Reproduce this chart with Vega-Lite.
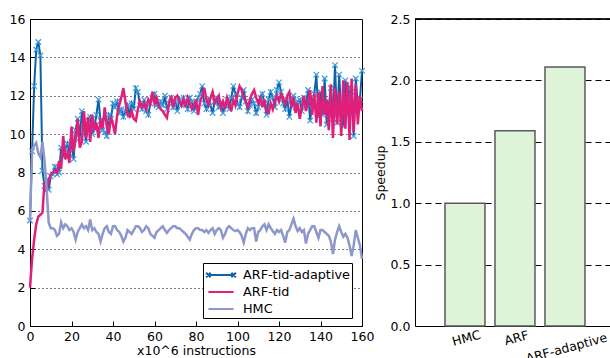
{
  "$schema": "https://vega.github.io/schema/vega-lite/v6.json",
  "padding": {"left": 8, "top": 12, "right": 0, "bottom": 0},
  "background": "white",
  "bounds": "flush",
  "spacing": 53,
  "config": {
    "font": "DejaVu Sans",
    "axis": {"labelFont": "DejaVu Sans", "titleFont": "DejaVu Sans", "labelFontSize": 12.5, "titleFontSize": 12.5, "labelColor": "black", "titleColor": "black", "titleFontWeight": "normal", "domainColor": "black", "tickColor": "black"},
    "view": {"stroke": "black", "strokeWidth": 1}
  },
  "resolve": {"scale": {"color": "independent"}, "legend": {"color": "independent"}},
  "datasets": {
    "ARF-tid-adaptive": [
      {"x":0,"v":5.5},{"x":1,"v":9.1},{"x":2,"v":12.5},{"x":3,"v":14.4},{"x":4,"v":14.8},{"x":5,"v":14.1},{"x":6,"v":8.1},{"x":7,"v":7.3},{"x":8,"v":7.6},{"x":9,"v":7.1},
      {"x":10,"v":7.8},{"x":11,"v":7.9},{"x":12,"v":8.3},{"x":13,"v":7.9},{"x":14,"v":8.0},{"x":15,"v":9.3},{"x":16,"v":8.8},{"x":17,"v":9.2},{"x":18,"v":9.5},{"x":19,"v":9.0},
      {"x":20,"v":9.6},{"x":21,"v":8.7},{"x":22,"v":10.2},{"x":23,"v":10.8},{"x":24,"v":9.8},{"x":25,"v":11.2},{"x":26,"v":10.4},{"x":27,"v":9.6},{"x":28,"v":10.7},{"x":29,"v":10.9},
      {"x":30,"v":10.0},{"x":31,"v":10.3},{"x":32,"v":11.0},{"x":33,"v":11.8},{"x":34,"v":10.7},{"x":35,"v":10.2},{"x":36,"v":10.1},{"x":37,"v":9.9},{"x":38,"v":11.0},{"x":39,"v":10.8},
      {"x":40,"v":11.6},{"x":41,"v":11.4},{"x":42,"v":11.7},{"x":43,"v":11.1},{"x":44,"v":11.3},{"x":45,"v":10.9},{"x":46,"v":11.2},{"x":47,"v":11.5},{"x":48,"v":11.0},{"x":49,"v":11.6},
      {"x":50,"v":11.3},{"x":51,"v":12.4},{"x":52,"v":12.2},{"x":53,"v":11.5},{"x":54,"v":11.3},{"x":55,"v":11.8},{"x":56,"v":11.2},{"x":57,"v":11.0},{"x":58,"v":11.6},{"x":59,"v":11.9},
      {"x":60,"v":12.1},{"x":61,"v":11.5},{"x":62,"v":11.4},{"x":63,"v":11.7},{"x":64,"v":11.5},{"x":65,"v":12.0},{"x":66,"v":11.3},{"x":67,"v":11.6},{"x":68,"v":11.9},{"x":69,"v":11.4},
      {"x":70,"v":11.7},{"x":71,"v":11.2},{"x":72,"v":11.8},{"x":73,"v":11.5},{"x":74,"v":11.9},{"x":75,"v":11.6},{"x":76,"v":11.3},{"x":77,"v":11.9},{"x":78,"v":11.7},{"x":79,"v":11.2},
      {"x":80,"v":11.6},{"x":81,"v":11.9},{"x":82,"v":12.1},{"x":83,"v":12.5},{"x":84,"v":11.6},{"x":85,"v":11.3},{"x":86,"v":11.8},{"x":87,"v":11.5},{"x":88,"v":11.1},{"x":89,"v":11.7},
      {"x":90,"v":11.9},{"x":91,"v":11.4},{"x":92,"v":11.6},{"x":93,"v":11.1},{"x":94,"v":11.5},{"x":95,"v":11.8},{"x":96,"v":11.3},{"x":97,"v":11.9},{"x":98,"v":12.5},{"x":99,"v":12.1},
      {"x":100,"v":11.6},{"x":101,"v":11.4},{"x":102,"v":11.9},{"x":103,"v":12.3},{"x":104,"v":11.7},{"x":105,"v":11.2},{"x":106,"v":11.5},{"x":107,"v":11.8},{"x":108,"v":11.6},{"x":109,"v":11.1},
      {"x":110,"v":11.4},{"x":111,"v":11.9},{"x":112,"v":12.1},{"x":113,"v":11.6},{"x":114,"v":11.0},{"x":115,"v":11.8},{"x":116,"v":12.2},{"x":117,"v":11.9},{"x":118,"v":11.4},{"x":119,"v":12.3},
      {"x":120,"v":12.7},{"x":121,"v":12.2},{"x":122,"v":11.6},{"x":123,"v":11.3},{"x":124,"v":11.8},{"x":125,"v":10.9},{"x":126,"v":11.5},{"x":127,"v":12.0},{"x":128,"v":11.4},{"x":129,"v":11.7},
      {"x":130,"v":11.8},{"x":131,"v":11.2},{"x":132,"v":11.9},{"x":133,"v":11.5},{"x":134,"v":12.3},{"x":135,"v":10.7},{"x":136,"v":11.6},{"x":137,"v":12.1},{"x":138,"v":13.1},{"x":139,"v":10.9},
      {"x":140,"v":12.2},{"x":141,"v":11.0},{"x":142,"v":12.9},{"x":143,"v":10.5},{"x":144,"v":11.5},{"x":145,"v":12.4},{"x":146,"v":10.8},{"x":147,"v":13.6},{"x":148,"v":10.6},{"x":149,"v":13.1},
      {"x":150,"v":11.2},{"x":151,"v":10.4},{"x":152,"v":12.8},{"x":153,"v":11.0},{"x":154,"v":12.4},{"x":155,"v":12.2},{"x":156,"v":9.9},{"x":157,"v":12.9},{"x":158,"v":11.5},{"x":159,"v":11.8},
      {"x":160,"v":13.3}
    ],
    "ARF-tid": [
      {"x":0,"v":2.0},{"x":1,"v":3.5},{"x":2,"v":4.5},{"x":3,"v":5.3},{"x":4,"v":5.7},{"x":5,"v":5.8},{"x":6,"v":5.9},{"x":7,"v":7.5},{"x":8,"v":7.0},{"x":9,"v":7.6},
      {"x":10,"v":7.9},{"x":11,"v":8.0},{"x":12,"v":8.1},{"x":13,"v":8.0},{"x":14,"v":8.6},{"x":15,"v":8.2},{"x":16,"v":9.9},{"x":17,"v":8.7},{"x":18,"v":9.0},{"x":19,"v":8.5},
      {"x":20,"v":10.4},{"x":21,"v":9.1},{"x":22,"v":9.7},{"x":23,"v":10.8},{"x":24,"v":9.3},{"x":25,"v":9.6},{"x":26,"v":11.2},{"x":27,"v":9.8},{"x":28,"v":10.9},{"x":29,"v":9.6},
      {"x":30,"v":11.0},{"x":31,"v":10.2},{"x":32,"v":10.6},{"x":33,"v":9.8},{"x":34,"v":10.8},{"x":35,"v":10.3},{"x":36,"v":11.4},{"x":37,"v":10.4},{"x":38,"v":10.0},{"x":39,"v":10.9},
      {"x":40,"v":10.5},{"x":41,"v":10.0},{"x":42,"v":11.0},{"x":43,"v":11.5},{"x":44,"v":11.9},{"x":45,"v":12.4},{"x":46,"v":11.7},{"x":47,"v":11.0},{"x":48,"v":10.9},{"x":49,"v":11.2},
      {"x":50,"v":10.8},{"x":51,"v":10.7},{"x":52,"v":11.3},{"x":53,"v":11.7},{"x":54,"v":11.4},{"x":55,"v":11.6},{"x":56,"v":11.3},{"x":57,"v":11.8},{"x":58,"v":11.6},{"x":59,"v":12.2},
      {"x":60,"v":11.6},{"x":61,"v":11.9},{"x":62,"v":11.5},{"x":63,"v":11.3},{"x":64,"v":11.2},{"x":65,"v":11.0},{"x":66,"v":10.85},{"x":67,"v":11.6},{"x":68,"v":12.0},{"x":69,"v":11.4},
      {"x":70,"v":11.9},{"x":71,"v":12.0},{"x":72,"v":11.7},{"x":73,"v":11.5},{"x":74,"v":11.8},{"x":75,"v":11.4},{"x":76,"v":11.9},{"x":77,"v":11.6},{"x":78,"v":11.3},{"x":79,"v":11.5},
      {"x":80,"v":11.8},{"x":81,"v":11.0},{"x":82,"v":11.7},{"x":83,"v":12.0},{"x":84,"v":12.4},{"x":85,"v":11.8},{"x":86,"v":11.5},{"x":87,"v":11.9},{"x":88,"v":12.2},{"x":89,"v":11.6},
      {"x":90,"v":11.8},{"x":91,"v":12.0},{"x":92,"v":11.4},{"x":93,"v":11.7},{"x":94,"v":11.3},{"x":95,"v":11.9},{"x":96,"v":11.6},{"x":97,"v":11.2},{"x":98,"v":11.8},{"x":99,"v":11.5},
      {"x":100,"v":12.1},{"x":101,"v":12.5},{"x":102,"v":12.3},{"x":103,"v":11.9},{"x":104,"v":11.7},{"x":105,"v":11.4},{"x":106,"v":11.8},{"x":107,"v":12.1},{"x":108,"v":12.3},{"x":109,"v":11.9},
      {"x":110,"v":11.6},{"x":111,"v":11.9},{"x":112,"v":11.4},{"x":113,"v":11.8},{"x":114,"v":11.2},{"x":115,"v":11.1},{"x":116,"v":11.6},{"x":117,"v":11.3},{"x":118,"v":11.8},{"x":119,"v":12.0},
      {"x":120,"v":11.7},{"x":121,"v":12.1},{"x":122,"v":11.9},{"x":123,"v":11.5},{"x":124,"v":12.0},{"x":125,"v":12.2},{"x":126,"v":11.4},{"x":127,"v":11.9},{"x":128,"v":11.1},{"x":129,"v":11.6},
      {"x":130,"v":10.8},{"x":131,"v":11.4},{"x":132,"v":12.0},{"x":133,"v":11.2},{"x":134,"v":11.7},{"x":135,"v":12.3},{"x":136,"v":11.0},{"x":137,"v":12.1},{"x":138,"v":10.6},{"x":139,"v":12.2},
      {"x":140,"v":10.4},{"x":141,"v":12.5},{"x":142,"v":11.0},{"x":143,"v":11.8},{"x":144,"v":10.2},{"x":145,"v":12.6},{"x":146,"v":9.8},{"x":147,"v":12.4},{"x":148,"v":10.5},{"x":149,"v":12.2},
      {"x":150,"v":9.9},{"x":151,"v":12.8},{"x":152,"v":10.3},{"x":153,"v":12.7},{"x":154,"v":9.7},{"x":155,"v":12.9},{"x":156,"v":10.1},{"x":157,"v":12.6},{"x":158,"v":10.5},{"x":159,"v":12.0},
      {"x":160,"v":11.2}
    ],
    "HMC": [
      {"x":0,"v":5.5},{"x":1,"v":9.2},{"x":2,"v":9.4},{"x":3,"v":9.55},{"x":4,"v":9.0},{"x":5,"v":8.8},{"x":6,"v":9.6},{"x":7,"v":8.6},{"x":8,"v":7.2},{"x":9,"v":5.4},
      {"x":10,"v":5.1},{"x":11,"v":5.1},{"x":12,"v":5.0},{"x":13,"v":4.7},{"x":14,"v":4.8},{"x":15,"v":5.4},{"x":16,"v":5.1},{"x":17,"v":5.3},{"x":18,"v":5.2},{"x":19,"v":5.0},
      {"x":20,"v":5.1},{"x":21,"v":4.9},{"x":22,"v":4.5},{"x":23,"v":4.9},{"x":24,"v":5.1},{"x":25,"v":5.3},{"x":26,"v":5.1},{"x":27,"v":5.2},{"x":28,"v":5.0},{"x":29,"v":5.55},
      {"x":30,"v":5.0},{"x":31,"v":5.1},{"x":32,"v":4.9},{"x":33,"v":4.8},{"x":34,"v":4.4},{"x":35,"v":4.8},{"x":36,"v":5.1},{"x":37,"v":5.2},{"x":38,"v":4.9},{"x":39,"v":4.8},
      {"x":40,"v":5.2},{"x":41,"v":5.2},{"x":42,"v":5.0},{"x":43,"v":4.9},{"x":44,"v":4.7},{"x":45,"v":4.4},{"x":46,"v":4.6},{"x":47,"v":5.0},{"x":48,"v":4.9},{"x":49,"v":4.8},
      {"x":50,"v":5.0},{"x":51,"v":5.2},{"x":52,"v":5.2},{"x":53,"v":5.1},{"x":54,"v":4.9},{"x":55,"v":5.0},{"x":56,"v":5.2},{"x":57,"v":5.1},{"x":58,"v":4.8},{"x":59,"v":4.7},
      {"x":60,"v":4.6},{"x":61,"v":4.9},{"x":62,"v":5.0},{"x":63,"v":5.1},{"x":64,"v":5.2},{"x":65,"v":5.0},{"x":66,"v":4.85},{"x":67,"v":5.0},{"x":68,"v":5.1},{"x":69,"v":5.2},
      {"x":70,"v":5.2},{"x":71,"v":5.1},{"x":72,"v":5.1},{"x":73,"v":5.0},{"x":74,"v":4.9},{"x":75,"v":4.8},{"x":76,"v":4.65},{"x":77,"v":4.5},{"x":78,"v":4.8},{"x":79,"v":5.0},
      {"x":80,"v":5.1},{"x":81,"v":5.1},{"x":82,"v":5.0},{"x":83,"v":5.0},{"x":84,"v":4.9},{"x":85,"v":5.0},{"x":86,"v":4.85},{"x":87,"v":5.0},{"x":88,"v":5.1},{"x":89,"v":4.8},
      {"x":90,"v":5.0},{"x":91,"v":5.1},{"x":92,"v":5.0},{"x":93,"v":4.6},{"x":94,"v":4.8},{"x":95,"v":5.1},{"x":96,"v":5.2},{"x":97,"v":5.1},{"x":98,"v":5.0},{"x":99,"v":4.95},
      {"x":100,"v":5.0},{"x":101,"v":4.9},{"x":102,"v":4.7},{"x":103,"v":4.35},{"x":104,"v":4.8},{"x":105,"v":5.1},{"x":106,"v":5.0},{"x":107,"v":5.1},{"x":108,"v":5.1},{"x":109,"v":4.4},
      {"x":110,"v":4.9},{"x":111,"v":5.0},{"x":112,"v":5.2},{"x":113,"v":5.3},{"x":114,"v":5.0},{"x":115,"v":5.3},{"x":116,"v":5.1},{"x":117,"v":4.95},{"x":118,"v":4.8},{"x":119,"v":5.0},
      {"x":120,"v":4.9},{"x":121,"v":5.0},{"x":122,"v":4.7},{"x":123,"v":4.35},{"x":124,"v":4.9},{"x":125,"v":5.0},{"x":126,"v":5.3},{"x":127,"v":5.6},{"x":128,"v":5.2},{"x":129,"v":4.95},
      {"x":130,"v":5.1},{"x":131,"v":4.9},{"x":132,"v":5.0},{"x":133,"v":4.3},{"x":134,"v":4.8},{"x":135,"v":5.0},{"x":136,"v":5.2},{"x":137,"v":5.2},{"x":138,"v":4.9},{"x":139,"v":4.6},
      {"x":140,"v":5.0},{"x":141,"v":5.0},{"x":142,"v":4.9},{"x":143,"v":4.8},{"x":144,"v":4.7},{"x":145,"v":4.4},{"x":146,"v":3.75},{"x":147,"v":4.5},{"x":148,"v":4.9},{"x":149,"v":5.2},
      {"x":150,"v":4.9},{"x":151,"v":4.65},{"x":152,"v":4.8},{"x":153,"v":4.6},{"x":154,"v":4.2},{"x":155,"v":3.65},{"x":156,"v":4.2},{"x":157,"v":5.0},{"x":158,"v":4.6},{"x":159,"v":4.2},
      {"x":160,"v":3.5}
    ],
    "bars": [
      {"c": "HMC", "speedup": 1.0},
      {"c": "ARF", "speedup": 1.59},
      {"c": "ARF-adaptive", "speedup": 2.11}
    ]
  },
  "hconcat": [
    {
      "width": 332,
      "height": 307,
      "encoding": {
        "x": {"field": "x", "type": "quantitative", "scale": {"domain": [0, 160], "nice": false},
              "axis": {"values": [0,20,40,60,80,100,120,140,160], "title": "x10^6 instructions", "grid": false, "ticks": true, "tickSize": -5, "labelFlush": false, "labelPadding": 9, "titlePadding": 2, "domain": false}},
        "y": {"field": "v", "type": "quantitative", "scale": {"domain": [0, 16], "nice": false},
              "axis": {"values": [0,2,4,6,8,10,12,14,16], "title": null, "grid": true, "gridDash": [1, 3], "gridColor": "black", "gridOpacity": 1, "ticks": true, "tickSize": -5, "labelPadding": 10, "domain": false}}
      },
      "layer": [
        {
          "data": {"name": "ARF-tid-adaptive"},
          "mark": {"type": "line", "strokeWidth": 2},
          "encoding": {
            "color": {"datum": "ARF-tid-adaptive", "type": "nominal",
              "scale": {"domain": ["ARF-tid-adaptive", "ARF-tid", "HMC"], "range": ["#0e62a8", "#e01f7b", "#8d97cb"]},
              "legend": {"orient": "none", "legendX": 173, "legendY": 244, "title": null, "strokeColor": "black", "fillColor": "white", "padding": 2, "cornerRadius": 0,
                         "labelFont": "DejaVu Sans", "labelFontSize": 12.8, "labelColor": "black",
                         "symbolType": "M-1.4,0L1.4,0", "symbolSize": 324, "symbolStrokeWidth": 2, "symbolOffset": 6, "labelOffset": 12, "rowPadding": 0,
                         "encode": {"symbols": {"update": {"shape": {"signal": "datum.label === 'ARF-tid-adaptive' ? 'M-1.4,0L1.4,0M-1.65,-0.25L-1.15,0.25M-1.65,0.25L-1.15,-0.25M1.15,-0.25L1.65,0.25M1.15,0.25L1.65,-0.25' : 'M-1.4,0L1.4,0'"}}}}}
            }
          }
        },
        {
          "data": {"name": "ARF-tid-adaptive"},
          "mark": {"type": "point", "shape": "M-1,-1L1,1M-1,1L1,-1", "filled": false, "size": 30, "stroke": "#3d9be0", "strokeWidth": 1.2, "opacity": 1}
        },
        {
          "data": {"name": "ARF-tid"},
          "mark": {"type": "line", "strokeWidth": 2.5},
          "encoding": {"color": {"datum": "ARF-tid", "type": "nominal"}}
        },
        {
          "data": {"name": "HMC"},
          "mark": {"type": "line", "strokeWidth": 2.5},
          "encoding": {"color": {"datum": "HMC", "type": "nominal"}}
        }
      ]
    },
    {
      "width": 195,
      "height": 307,
      "view": {"stroke": null},
      "data": {"name": "bars"},
      "layer": [
        {
          "mark": {"type": "bar", "fill": "#dff3d9", "stroke": "#5a5a5a", "strokeWidth": 1.5},
          "encoding": {
            "x": {"field": "c", "type": "nominal", "sort": null,
                  "scale": {"paddingInner": 0.2, "paddingOuter": 0.55, "align": 0.545},
                  "axis": {"title": null, "labelAngle": -15, "labelAlign": "center", "labelBaseline": "top",
                           "labelPadding": {"condition": {"test": "datum.value === 'ARF-adaptive'", "value": 16}, "value": 6},
                           "ticks": false, "domain": true, "domainColor": "black"}},
            "y": {"field": "speedup", "type": "quantitative", "scale": {"domain": [0, 2.5], "nice": false},
                  "axis": {"title": "Speedup", "values": [0, 0.5, 1, 1.5, 2, 2.5], "format": ".1f", "grid": true, "gridDash": [6, 4], "gridColor": "black", "gridOpacity": 1, "ticks": false, "labelPadding": 5, "titlePadding": 3, "domain": true, "domainColor": "black"}}
          }
        },
        {
          "mark": {"type": "rule", "color": "black", "strokeWidth": 1},
          "encoding": {"y": {"datum": 2.5}}
        }
      ]
    }
  ]
}
